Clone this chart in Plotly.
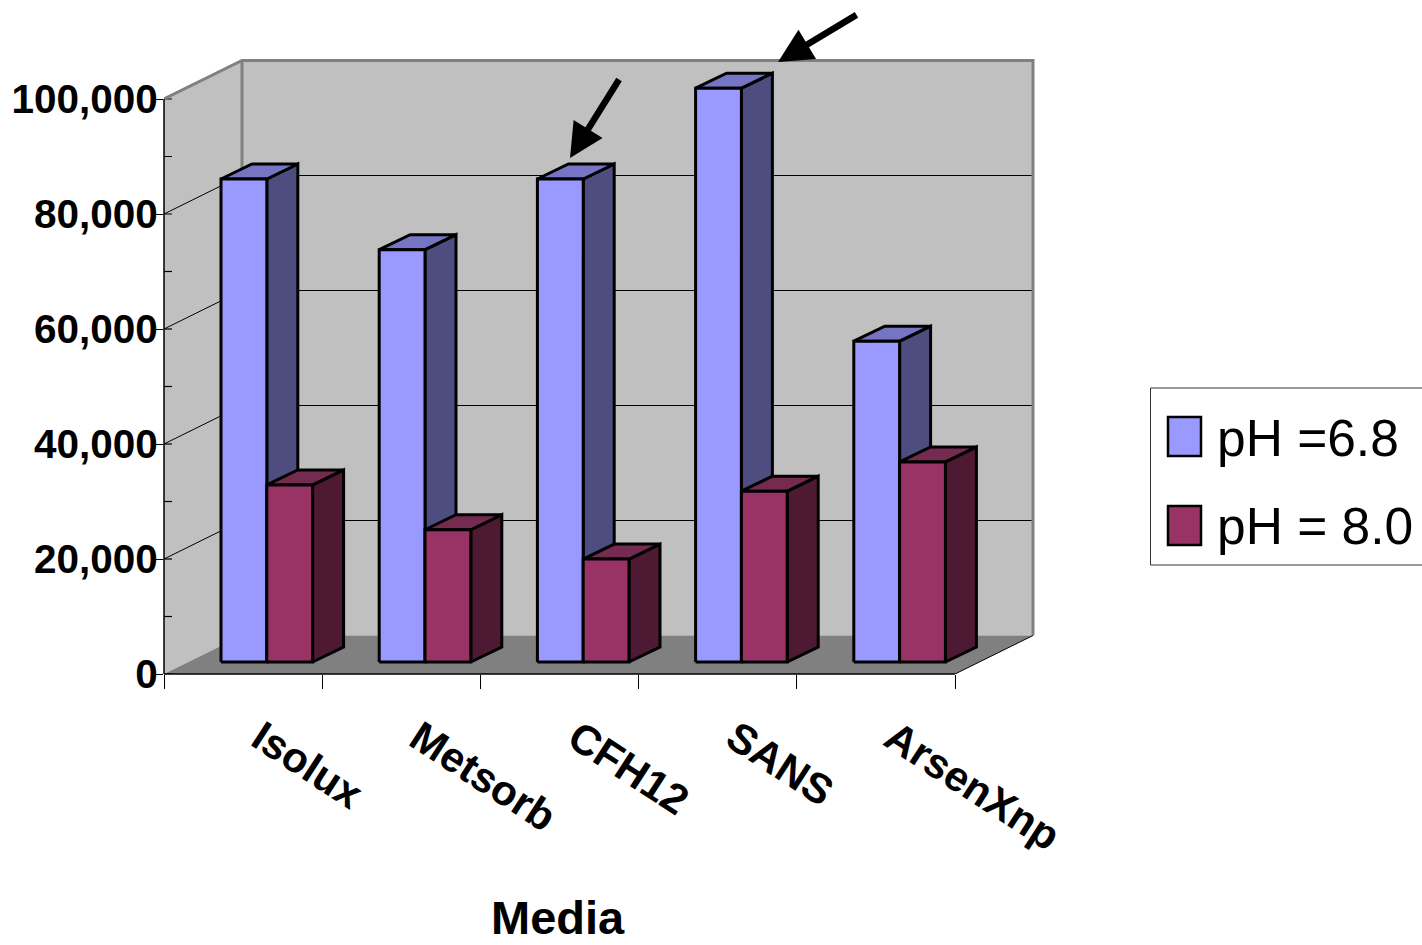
import plotly.graph_objects as go

categories = ["Isolux", "Metsorb", "CFH12", "SANS", "ArsenXnp"]
ph68 = [84000, 71700, 84000, 99800, 55800]
ph80 = [30800, 23000, 17900, 29700, 34800]
series_names = ["pH =6.8", "pH = 8.0"]
axis_title = "Media"
y_ticks = [0, 20000, 40000, 60000, 80000, 100000]
y_minor = [10000, 30000, 50000, 70000, 90000]

W, H = 1422, 945
L, R, T, B = 164, 955, 99, 674          # front plane of the chart box
SLOT = (R - L) / len(categories)
PX_Y = (B - T) / 100000                 # pixels per value unit
def dx(px): return px / SLOT
def dy(px): return px / PX_Y

WALL_DX, WALL_DY = dx(78), dy(38.5)     # depth of the whole box
BAR_DX, BAR_DY = dx(31), dy(15)         # depth of a bar
BASE = dy(12)                           # bars stand this far up the floor
BAR_W = dx(45.8)
BAR_START = dx(57)
N = len(categories)
TOP = y_ticks[-1]
PAD = 4                                 # pixels of room round the box

BLUE = ["#9999FF", "#7575C4", "#4D4D80"]
RED = ["#993366", "#752A50", "#4D1933"]

def poly(xs, ys):
    return list(xs) + [xs[0], None], list(ys) + [ys[0], None]

def faces(values, offset):
    fr, tp, sd = ([], []), ([], []), ([], [])
    for i, v in enumerate(values):
        x0 = i + BAR_START + offset * BAR_W
        x1 = x0 + BAR_W
        h = BASE + v
        for store, xs, ys in (
            (fr, [x0, x1, x1, x0], [BASE, BASE, h, h]),
            (tp, [x0, x1, x1 + BAR_DX, x0 + BAR_DX], [h, h, h + BAR_DY, h + BAR_DY]),
            (sd, [x1, x1 + BAR_DX, x1 + BAR_DX, x1], [BASE, BASE + BAR_DY, h + BAR_DY, h]),
        ):
            a, b = poly(xs, ys)
            store[0].extend(a)
            store[1].extend(b)
    return fr, tp, sd

fig = go.Figure()

def area(xs, ys, fill, line=None, width=0):
    fig.add_trace(go.Scatter(x=xs, y=ys, mode="lines", fill="toself", fillcolor=fill,
                             line=dict(color=line or fill, width=width), cliponaxis=False,
                             showlegend=False, hoverinfo="skip"))

def lines(xs, ys, color, width):
    fig.add_trace(go.Scatter(x=xs, y=ys, mode="lines", line=dict(color=color, width=width),
                             cliponaxis=False, connectgaps=False, showlegend=False, hoverinfo="skip"))

# walls and floor
area([WALL_DX, N + WALL_DX, N + WALL_DX, WALL_DX, WALL_DX],
     [WALL_DY, WALL_DY, TOP + WALL_DY, TOP + WALL_DY, WALL_DY], "#C0C0C0")
area([0, WALL_DX, WALL_DX, 0, 0], [0, WALL_DY, TOP + WALL_DY, TOP, 0], "#C0C0C0")
area([0, WALL_DX, N + WALL_DX, N, 0], [0, WALL_DY, WALL_DY, 0, 0], "#808080")

# gridlines on both walls
gx, gy = [], []
for t in y_ticks[1:-1]:
    gx += [0, WALL_DX, N + WALL_DX, None]
    gy += [t, t + WALL_DY, t + WALL_DY, None]
lines(gx, gy, "#000000", 1)

# inner tick stubs on the left wall
sx, sy = [], []
for t in y_ticks + y_minor:
    sx += [0, dx(8), None]
    sy += [t, t, None]
lines(sx, sy, "#000000", 1.2)

# wall outline
lines([0, WALL_DX, N + WALL_DX, N + WALL_DX], [TOP, TOP + WALL_DY, TOP + WALL_DY, WALL_DY], "#808080", 3)
lines([WALL_DX, WALL_DX], [WALL_DY, TOP + WALL_DY], "#808080", 3)
lines([N, N + WALL_DX], [0, WALL_DY], "#000000", 1)

# bars
for values, offset, colors in ((ph68, 0, BLUE), (ph80, 1, RED)):
    fr, tp, sd = faces(values, offset)
    area(sd[0], sd[1], colors[2], "#000000", 3)
    area(tp[0], tp[1], colors[1], "#000000", 3)
    area(fr[0], fr[1], colors[0], "#000000", 3)

def px(x): return x / W
def py(y): return 1 - y / H

shapes = [
    dict(type="line", xref="paper", yref="paper", x0=px(L), x1=px(L), y0=py(T), y1=py(B),
         line=dict(color="#000000", width=1.5)),
    dict(type="line", xref="paper", yref="paper", x0=px(L), x1=px(R), y0=py(B), y1=py(B),
         line=dict(color="#000000", width=1.5)),
    dict(type="rect", xref="paper", yref="paper", x0=px(1150.5), x1=px(1424), y0=py(388), y1=py(565),
         line=dict(color="#333333", width=1), fillcolor="#FFFFFF"),
    dict(type="rect", xref="paper", yref="paper", x0=px(1168), x1=px(1201), y0=py(417), y1=py(456),
         line=dict(color="#000000", width=2.5), fillcolor=BLUE[0]),
    dict(type="rect", xref="paper", yref="paper", x0=px(1168), x1=px(1201), y0=py(506), y1=py(545),
         line=dict(color="#000000", width=2.5), fillcolor=RED[0]),
]
ann = [
    dict(x=px(1215), y=py(438), xref="paper", yref="paper", text=series_names[0], showarrow=False,
         xanchor="left", yanchor="middle", font=dict(size=51.5)),
    dict(x=px(1215), y=py(526), xref="paper", yref="paper", text=series_names[1], showarrow=False,
         xanchor="left", yanchor="middle", font=dict(size=51.5)),
    dict(x=px(558), y=py(917), xref="paper", yref="paper", text="<b>" + axis_title + "</b>", showarrow=False,
         xanchor="center", yanchor="middle", font=dict(size=47)),
    dict(x=px(570), y=py(158), xref="paper", yref="paper", text="", showarrow=True, ax=50, ay=-80,
         arrowhead=2, arrowsize=1.05, arrowwidth=6.5, arrowcolor="#000000"),
    dict(x=px(778), y=py(62), xref="paper", yref="paper", text="", showarrow=True, ax=80, ay=-48,
         arrowhead=2, arrowsize=1.05, arrowwidth=6.5, arrowcolor="#000000"),
]

X_MAX = N + WALL_DX + dx(PAD)
Y_MAX = TOP + WALL_DY + dy(PAD)
DOM_R = L + X_MAX * SLOT
DOM_T = B - Y_MAX * PX_Y

fig.update_layout(
    width=W, height=H, autosize=False,
    margin=dict(l=0, r=0, t=0, b=0, pad=0),
    paper_bgcolor="#FFFFFF", plot_bgcolor="rgba(0,0,0,0)",
    font=dict(family="Liberation Sans", color="#000000"),
    showlegend=False, shapes=shapes, annotations=ann,
    separators=".,",
    xaxis=dict(domain=[L / W, DOM_R / W], range=[0, X_MAX], showgrid=False, zeroline=False,
               showline=False, automargin=False,
               tickmode="array", tickvals=[i + 0.5 for i in range(N)], ticktext=categories,
               ticks="outside", ticklen=0, tickangle=33, ticklabelstandoff=22, ticklabelshift=17,
               tickfont=dict(size=42, family="Liberation Sans", weight="bold"),
               minor=dict(tickmode="array", tickvals=list(range(N + 1)), ticks="outside",
                          ticklen=14, tickcolor="#000000", tickwidth=1.2, showgrid=False)),
    yaxis=dict(domain=[1 - B / H, 1 - DOM_T / H], range=[0, Y_MAX], showgrid=False, zeroline=False,
               showline=False, automargin=False,
               tickmode="array", tickvals=y_ticks, tickformat=",d",
               ticks="outside", ticklen=7, tickcolor="#000000", tickwidth=1.2, ticklabelstandoff=-10,
               tickfont=dict(size=40.5, family="Liberation Sans", weight="bold")),
)

fig.write_html("out.html", config=dict(displayModeBar=False),
               post_script="document.body.style.margin='0';document.body.style.overflow='hidden';")
